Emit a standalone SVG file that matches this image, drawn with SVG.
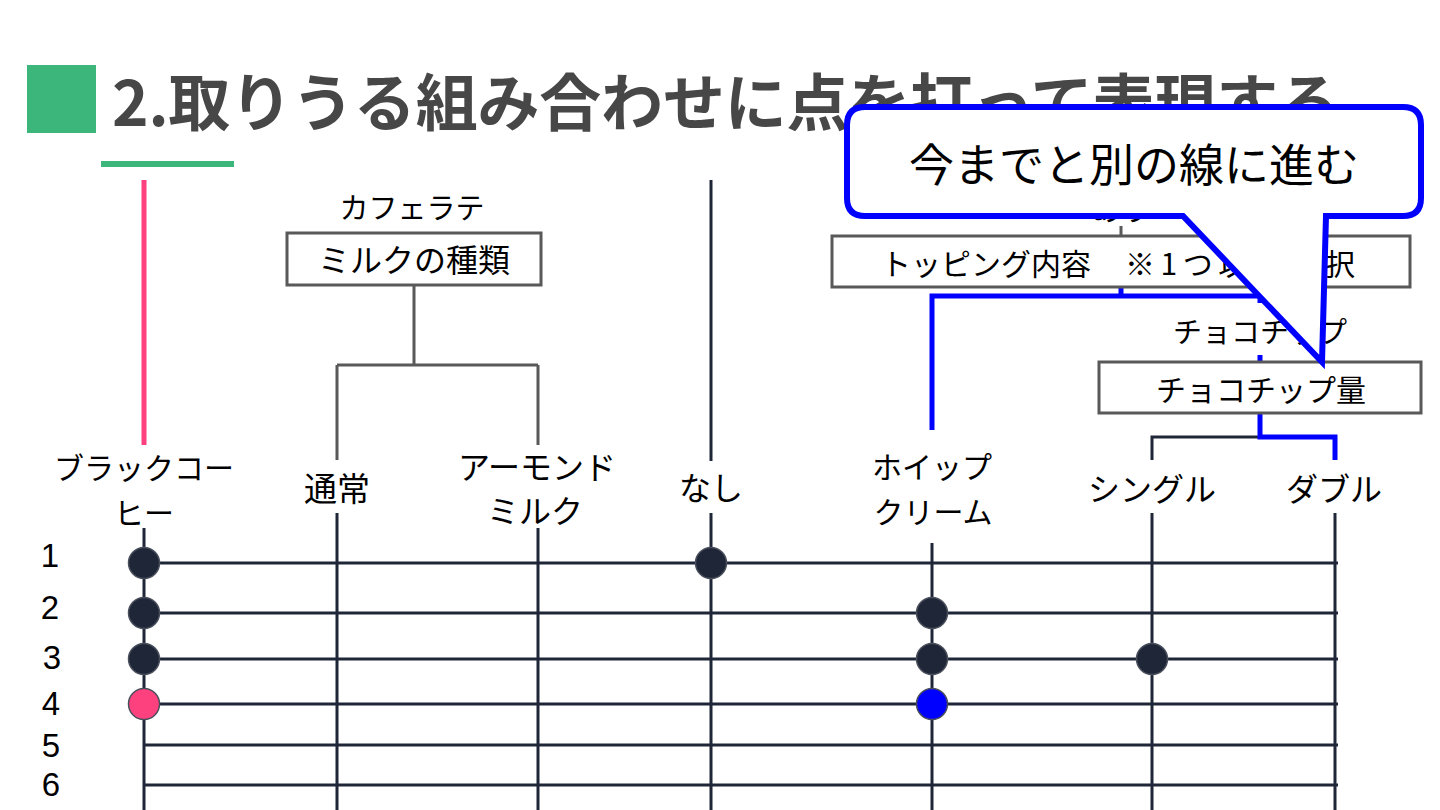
<svg xmlns="http://www.w3.org/2000/svg" width="1440" height="810" viewBox="0 0 1440 810">
<defs>
<style>
.t{font-family:"Noto Sans CJK JP","Noto Sans",sans-serif;fill:#000;text-anchor:middle;dominant-baseline:central}
.lbl{font-size:30px}
.lg{font-size:32px}
.num{font-family:"Liberation Sans",Arial,sans-serif;font-size:33px;fill:#000;text-anchor:middle;dominant-baseline:central}
.box{fill:#fff;stroke:#595959;stroke-width:3}
.gl{stroke:#595959;stroke-width:3;fill:none}
.nv{stroke:#1f2638;stroke-width:3;fill:none}
.bl{stroke:#0000ff;stroke-width:5;fill:none}
.pk{stroke:#fd417f;stroke-width:5;fill:none}
.dot{fill:#1f2638;stroke:#4a4f5c;stroke-width:1.5}
</style>
</defs>
<rect width="1440" height="810" fill="#fff"/>

<g id="title">
<rect x="27" y="65" width="69" height="68" fill="#3db67b"/>
<text x="112" y="99" font-family="'Noto Sans CJK JP','Noto Sans',sans-serif" font-weight="700" font-size="62" fill="#474747" dominant-baseline="central" textLength="1228" lengthAdjust="spacing">2.取りうる組み合わせに点を打って表現する</text>
<rect x="101" y="161" width="133" height="6" fill="#3db67b"/>
</g>

<g id="connectors">
<line class="pk" x1="144" y1="180" x2="144" y2="445"/>
<line class="nv" x1="711" y1="180" x2="711" y2="461"/>
<path class="gl" d="M414,285 V365 M337,365 H538 M337,365 V460 M538,365 V445"/>
<line class="gl" x1="1121" y1="226" x2="1121" y2="235"/>
<path class="bl" d="M932,430 V296 H1260 V362 M1121,287 V296"/>
<path class="nv" d="M1152,460 V437 H1260"/>
<path class="bl" d="M1260,413 V437 H1335 V460"/>
<line class="nv" x1="144" y1="528" x2="144" y2="810"/>
<line class="nv" x1="337" y1="513" x2="337" y2="810"/>
<line class="nv" x1="538" y1="528" x2="538" y2="810"/>
<line class="nv" x1="711" y1="513" x2="711" y2="810"/>
<line class="nv" x1="932" y1="543" x2="932" y2="810"/>
<line class="nv" x1="1152" y1="513" x2="1152" y2="810"/>
<line class="nv" x1="1335" y1="513" x2="1335" y2="810"/>
<line class="nv" x1="144" y1="563" x2="1338" y2="563"/>
<line class="nv" x1="144" y1="613" x2="1338" y2="613"/>
<line class="nv" x1="144" y1="659" x2="1338" y2="659"/>
<line class="nv" x1="144" y1="704" x2="1338" y2="704"/>
<line class="nv" x1="144" y1="745" x2="1338" y2="745"/>
<line class="nv" x1="144" y1="785" x2="1338" y2="785"/>
</g>

<g id="node-milk">
<text class="t" x="412" y="206" font-size="29">カフェラテ</text>
<rect class="box" x="287" y="233" width="254" height="52"/>
<text class="t" x="414" y="258" font-size="32">ミルクの種類</text>
</g>

<g id="node-topping">
<text class="t lbl" x="1121" y="207">あり</text>
<rect class="box" x="832" y="236" width="578" height="51"/>
<text class="t lbl" y="262" style="text-anchor:start"><tspan x="881">トッピング内容</tspan><tspan x="1125" textLength="230" lengthAdjust="spacing">※1つ以上選択</tspan></text>
</g>

<g id="node-choco">
<rect x="1166" y="303" width="188" height="52" fill="#fff"/>
<text class="t" x="1260" y="330" font-size="29">チョコチップ</text>
<rect class="box" x="1099" y="362" width="322" height="51"/>
<text class="t lbl" x="1261" y="388">チョコチップ量</text>
</g>

<g id="node-black"><text class="t lbl" x="144" y="466">ブラックコー</text><text class="t lbl" x="144" y="511">ヒー</text></g>
<g id="node-normal"><text class="t" x="337" y="487" font-size="33">通常</text></g>
<g id="node-almond"><text class="t lg" x="537" y="465">アーモンド</text><text class="t lg" x="535" y="509">ミルク</text></g>
<g id="node-none"><text class="t lg" x="711" y="486">なし</text></g>
<g id="node-whip"><text class="t lbl" x="932" y="465">ホイップ</text><text class="t lbl" x="933" y="510">クリーム</text></g>
<g id="node-single"><text class="t lg" x="1152" y="487">シングル</text></g>
<g id="node-double"><text class="t lg" x="1334" y="487">ダブル</text></g>

<g id="row-labels">
<text class="num" x="50" y="555">1</text>
<text class="num" x="50" y="607">2</text>
<text class="num" x="52" y="657">3</text>
<text class="num" x="51" y="703">4</text>
<text class="num" x="51" y="745">5</text>
<text class="num" x="51" y="784">6</text>
</g>

<g id="points">
<circle class="dot" cx="144" cy="563" r="15.5"/>
<circle class="dot" cx="711" cy="563" r="15.5"/>
<circle class="dot" cx="144" cy="613" r="15.5"/>
<circle class="dot" cx="932" cy="613" r="15.5"/>
<circle class="dot" cx="144" cy="659" r="15.5"/>
<circle class="dot" cx="932" cy="659" r="15.5"/>
<circle class="dot" cx="1152" cy="659" r="15.5"/>
<circle cx="144" cy="704" r="15.5" fill="#fd417f" stroke="#4a4f5c" stroke-width="1.5"/>
<circle cx="932" cy="704" r="15.5" fill="#0000ff" stroke="#4a4f5c" stroke-width="1.5"/>
</g>

<g id="callout">
<path d="M865,107 H1403 Q1421,107 1421,125 V198 Q1421,216 1403,216 H1326 L1322,362 L1183,216 H865 Q847,216 847,198 V125 Q847,107 865,107 Z" fill="#fff" stroke="#0000ff" stroke-width="6" stroke-linejoin="miter"/>
<text class="t" x="1134" y="162" font-size="45">今までと別の線に進む</text>
</g>
</svg>
